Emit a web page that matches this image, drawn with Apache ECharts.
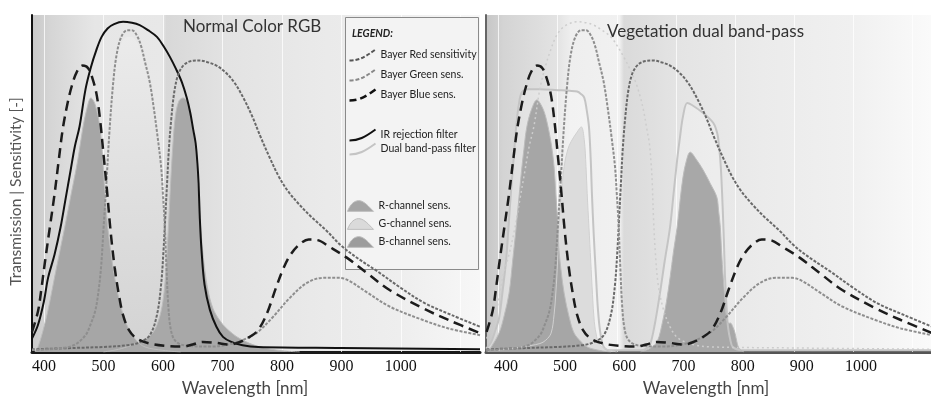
<!DOCTYPE html>
<html>
<head>
<meta charset="utf-8">
<title>Normal Color RGB vs Vegetation dual band-pass</title>
<script src="https://cdn.jsdelivr.net/npm/echarts@6/dist/echarts.min.js"></script>
<style>
  html, body { margin: 0; padding: 0; background: #fff; }
  #chart { width: 931px; height: 405px; }
</style>
</head>
<body>
<div id="chart"></div>
<script>
// all curves: [wavelength nm, relative value 0..1]
var bayerRed = [[380,0.008],[450,0.012],[500,0.015],[540,0.02],[560,0.028],[578,0.05],[590,0.11],[597,0.2],[601,0.3],[604,0.4],[607,0.5],[610,0.6],[614,0.69],[619,0.77],[625,0.82],[632,0.845],[640,0.858],[650,0.864],[662,0.865],[675,0.86],[690,0.85],[705,0.83],[720,0.8],[735,0.755],[750,0.7],[765,0.635],[780,0.575],[795,0.52],[810,0.478],[828,0.44],[850,0.4],[875,0.36],[900,0.315],[930,0.275],[960,0.24],[1000,0.19],[1040,0.145],[1085,0.11],[1133,0.075]];
var bayerGreen = [[380,0.006],[420,0.01],[450,0.02],[470,0.05],[478,0.08],[486,0.12],[491,0.17],[496,0.25],[500,0.36],[505,0.5],[510,0.65],[516,0.79],[522,0.88],[530,0.935],[540,0.955],[548,0.955],[556,0.94],[563,0.91],[570,0.86],[578,0.8],[585,0.72],[591,0.64],[597,0.55],[600,0.47],[603,0.38],[606,0.25],[609,0.14],[613,0.07],[620,0.035],[635,0.02],[680,0.016],[717,0.025],[740,0.04],[760,0.06],[785,0.104],[813,0.16],[842,0.205],[869,0.22],[897,0.22],[914,0.21],[943,0.177],[981,0.135],[1037,0.095],[1080,0.07],[1133,0.05]];
var bayerBlue = [[380,0.06],[390,0.12],[396,0.19],[402,0.27],[410,0.37],[418,0.47],[425,0.57],[432,0.665],[440,0.74],[447,0.79],[455,0.83],[465,0.85],[474,0.843],[482,0.81],[489,0.76],[495,0.68],[500,0.59],[506,0.48],[512,0.36],[519,0.25],[526,0.17],[533,0.11],[543,0.065],[556,0.04],[578,0.025],[605,0.018],[633,0.016],[650,0.022],[667,0.03],[690,0.027],[712,0.022],[730,0.03],[746,0.045],[760,0.065],[775,0.115],[790,0.19],[803,0.25],[815,0.29],[830,0.32],[845,0.334],[860,0.332],[880,0.312],[909,0.28],[943,0.234],[981,0.184],[1037,0.13],[1080,0.095],[1133,0.056]];
var irFilter = [[380,0.04],[390,0.08],[400,0.15],[407,0.22],[418,0.29],[428,0.37],[436,0.45],[445,0.54],[452,0.61],[460,0.67],[470,0.78],[479,0.845],[488,0.895],[497,0.935],[507,0.96],[518,0.973],[533,0.98],[548,0.977],[561,0.97],[575,0.955],[590,0.935],[602,0.905],[612,0.875],[622,0.84],[632,0.8],[640,0.755],[646,0.71],[651,0.66],[655,0.62],[658,0.56],[660,0.5],[662,0.4],[665,0.3],[670,0.2],[679,0.125],[690,0.075],[701,0.045],[715,0.03],[734,0.02],[760,0.015],[900,0.012],[1133,0.008]];
var dualBandPass = [[379,0.01],[387,0.027],[394,0.06],[401,0.1],[407,0.18],[413,0.273],[417,0.37],[421,0.47],[426,0.58],[430,0.668],[435,0.74],[440,0.772],[450,0.78],[470,0.78],[500,0.777],[520,0.775],[533,0.773],[540,0.765],[545,0.755],[549,0.72],[553,0.668],[556,0.57],[558,0.47],[561,0.35],[565,0.22],[568,0.13],[572,0.06],[578,0.015],[590,0.005],[640,0.005],[650,0.01],[656,0.02],[664,0.08],[673,0.175],[681,0.27],[690,0.37],[696,0.47],[702,0.57],[707,0.64],[712,0.7],[719,0.739],[727,0.733],[746,0.709],[763,0.68],[768,0.66],[771,0.638],[775,0.57],[778,0.47],[781,0.33],[783,0.22],[786,0.12],[788,0.074],[792,0.035],[796,0.015],[810,0.006],[1131,0.005]];

// channel sensitivities, normal RGB (left)
var rChanRGB = [[500,0],[530,0.01],[561,0.03],[580,0.05],[592,0.09],[600,0.15],[605,0.24],[609,0.36],[613,0.5],[617,0.62],[621,0.7],[627,0.745],[634,0.754],[642,0.74],[650,0.67],[656,0.58],[660,0.46],[664,0.36],[668,0.28],[675,0.19],[684,0.13],[695,0.095],[707,0.07],[729,0.04],[763,0.015],[800,0.004],[830,0]];
var gChanRGB = [[430,0],[455,0.015],[470,0.04],[478,0.07],[486,0.11],[491,0.16],[496,0.24],[500,0.35],[505,0.49],[510,0.63],[516,0.77],[522,0.86],[530,0.915],[540,0.935],[548,0.935],[556,0.92],[563,0.89],[570,0.84],[578,0.78],[585,0.7],[591,0.62],[597,0.53],[600,0.45],[603,0.36],[606,0.24],[609,0.14],[613,0.07],[620,0.035],[640,0.015],[665,0.005],[690,0]];
var bChanRGB = [[385,0],[390,0.015],[398,0.06],[407,0.125],[420,0.24],[435,0.37],[446,0.47],[457,0.57],[465,0.66],[472,0.72],[479,0.754],[486,0.735],[494,0.668],[499,0.57],[503,0.46],[508,0.36],[513,0.29],[519,0.22],[530,0.13],[541,0.074],[555,0.035],[570,0.015],[600,0.005],[630,0]];

// channel sensitivities, vegetation dual band-pass (right)
var rChanVeg = [[640,0],[655,0.01],[668,0.03],[678,0.095],[684,0.15],[690,0.22],[696,0.3],[702,0.37],[707,0.45],[712,0.52],[718,0.57],[724,0.593],[735,0.57],[746,0.54],[758,0.5],[769,0.46],[772,0.42],[775,0.37],[777,0.3],[780,0.22],[783,0.15],[786,0.095],[789,0.085],[792,0.086],[796,0.075],[800,0.055],[803,0.03],[807,0.01],[815,0]];
var gChanVeg = [[400,0.005],[440,0.015],[470,0.025],[480,0.035],[489,0.056],[494,0.11],[497,0.175],[500,0.27],[502,0.37],[506,0.46],[511,0.55],[517,0.6],[523,0.625],[532,0.65],[540,0.668],[545,0.63],[548,0.55],[550,0.47],[553,0.37],[556,0.27],[559,0.17],[562,0.09],[566,0.045],[570,0.025],[580,0.01],[600,0]];
var bChanVeg = [[382,0],[388,0.015],[401,0.056],[410,0.11],[418,0.175],[424,0.27],[430,0.37],[438,0.52],[443,0.6],[448,0.668],[456,0.72],[465,0.748],[473,0.73],[480,0.697],[489,0.62],[494,0.55],[497,0.47],[500,0.39],[502,0.31],[506,0.24],[511,0.175],[520,0.1],[528,0.056],[540,0.03],[550,0.015],[570,0.005],[590,0]];

var tickNm = [400, 500, 600, 700, 800, 900, 1000];
var gridNm = [400, 500, 600, 700, 800, 900, 1000, 1100];

var chart = echarts.init(document.getElementById("chart"));

function bgGradient(stops) {
  return { type: "linear", x: 0, y: 0, x2: 1, y2: 0, colorStops: stops };
}

function curve(name, data, idx, color, width, dash, extra) {
  var s = {
    name: name,
    type: "line",
    xAxisIndex: idx,
    yAxisIndex: idx,
    data: data,
    smooth: 0.35,
    showSymbol: false,
    silent: true,
    lineStyle: { color: color, width: width, type: dash }
  };
  for (var k in extra) s[k] = extra[k];
  return s;
}

function fill(name, data, idx, color, edge) {
  return curve(name, data, idx, edge, 1, "solid", {
    areaStyle: { color: color, opacity: 1 }
  });
}

function bayerLines(idx) {
  return [
    curve("Bayer Red sensitivity", bayerRed, idx, "#696969", 2, [3, 1.5], {}),
    curve("Bayer Green sens.", bayerGreen, idx, "#8e8e8e", 2, [3, 1.5], {}),
    curve("Bayer Blue sens.", bayerBlue, idx, "#1c1c1c", 2.5, [10, 6], {})
  ];
}
var gridLines = {
  silent: true, symbol: "none", z: 1,
  label: { show: false },
  lineStyle: { color: "rgba(255,255,255,0.75)", width: 1, type: "solid" },
  data: gridNm.map(function (v) { return { xAxis: v }; })
};

var series = [];
// left: Normal Color RGB
var g1 = fill("G-channel sens.", gChanRGB, 0, {
  type: "linear", x: 0, y: 0, x2: 0, y2: 1,
  colorStops: [{ offset: 0, color: "#ebebeb" }, { offset: 1, color: "#d3d3d3" }]
}, "rgba(0,0,0,0)");
g1.markLine = gridLines;
series.push(g1);
series.push(fill("B-channel sens.", bChanRGB, 0, "#a6a6a6", "#bcbcbc"));
series.push(fill("R-channel sens.", rChanRGB, 0, "#a8a8a8", "#bcbcbc"));
series.push(curve("IR rejection filter", irFilter, 0, "#111", 2, "solid", {}));
series = series.concat(bayerLines(0));
// right: Vegetation dual band-pass
var bp = curve("Dual band-pass filter", dualBandPass, 1, "#c4c4c4", 2, "solid", {
  areaStyle: { color: "rgba(255,255,255,0.35)" }
});
bp.markLine = gridLines;
series.push(bp);
series.push(curve("IR filter (not used)", irFilter, 1, "#cdcdcd", 1.5, [2, 3], {}));
series.push(fill("G-channel sens.", gChanVeg, 1, "#dcdcdc", "#d0d0d0"));
series.push(fill("B-channel sens.", bChanVeg, 1, "#a6a6a6", "#bcbcbc"));
series.push(fill("R-channel sens.", rChanVeg, 1, "#a8a8a8", "#bcbcbc"));
series = series.concat(bayerLines(1));

var swoosh = "path://M0,12 C9,12 15,9 26,1";
var hump = "path://M0,13 C3,5 8,1 13,2 C18,3 22,8 27,13 Z";
var legendText = { fontFamily: "Lato", fontSize: 10.5, lineHeight: 12, color: "#222" };
function lineIcon(name, color, width, dash) {
  return { name: name, icon: swoosh,
    itemStyle: { color: "none", borderColor: color, borderWidth: width, borderType: dash } };
}
function humpIcon(name, color) {
  return { name: name, icon: hump,
    itemStyle: { color: color, borderColor: "#bdbdbd", borderWidth: 1 } };
}

var option = {
  animation: false,
  backgroundColor: "#fff",
  title: [
    { text: "Normal Color RGB", left: 183, top: 18, padding: 0,
      textStyle: { fontFamily: "Lato", fontSize: 17, fontWeight: "normal", color: "#333" } },
    { text: "Vegetation dual band-pass", left: 607, top: 23, padding: 0,
      textStyle: { fontFamily: "Lato", fontSize: 17, fontWeight: "normal", color: "#333" } }
  ],
  graphic: [
    { type: "rect", z: 3, silent: true,
      shape: { x: 345.5, y: 17.5, width: 133, height: 252 },
      style: { fill: "#f3f3f3", stroke: "#8a8a8a", lineWidth: 1 } },
    { type: "text", z: 5, silent: true, x: 352, y: 34,
      style: { text: "LEGEND:", fontFamily: "Lato", fontSize: 10.5, fontWeight: "bold",
               fontStyle: "italic", fill: "#222", verticalAlign: "middle" } }
  ],
  legend: [
    { left: 347, top: 47, padding: 0, orient: "vertical", itemWidth: 26, itemHeight: 12, itemGap: 4,
      selectedMode: false, textStyle: legendText,
      data: [
        lineIcon("Bayer Red sensitivity", "#555", 2, [4, 2]),
        lineIcon("Bayer Green sens.", "#888", 2, [4, 2]),
        lineIcon("Bayer Blue sens.", "#111", 2.5, [7, 4])
      ] },
    { left: 347, top: 127, padding: 0, orient: "vertical", itemWidth: 26, itemHeight: 12, itemGap: -2,
      selectedMode: false, textStyle: legendText,
      data: [
        lineIcon("IR rejection filter", "#111", 2, "solid"),
        lineIcon("Dual band-pass filter", "#c4c4c4", 2, "solid")
      ] },
    { left: 347, top: 200, padding: 0, orient: "vertical", itemWidth: 26, itemHeight: 14, itemGap: 6,
      selectedMode: false, textStyle: legendText,
      data: [
        humpIcon("R-channel sens.", "#a5a5a5"),
        humpIcon("G-channel sens.", "#dadada"),
        humpIcon("B-channel sens.", "#9c9c9c")
      ] }
  ],
  grid: [
    { left: 32, right: 451, top: 15, bottom: 53, show: true, borderWidth: 0,
      backgroundColor: bgGradient([
        { offset: 0, color: "#c9c9c9" }, { offset: 0.04, color: "#d5d5d5" },
        { offset: 0.14, color: "#e6e6e6" }, { offset: 0.29, color: "#e8e8e8" },
        { offset: 0.3, color: "#d8d8d8" }, { offset: 0.44, color: "#e3e3e3" },
        { offset: 0.62, color: "#e9e9e9" }, { offset: 0.82, color: "#eeeeee" },
        { offset: 1, color: "#f7f7f7" }
      ]) },
    { left: 486, right: 0, top: 15, bottom: 53, show: true, borderWidth: 0,
      backgroundColor: bgGradient([
        { offset: 0, color: "#c6c6c6" }, { offset: 0.04, color: "#d4d4d4" },
        { offset: 0.16, color: "#e3e3e3" }, { offset: 0.19, color: "#eeeeee" },
        { offset: 0.3, color: "#f1f1f1" }, { offset: 0.31, color: "#dadada" },
        { offset: 0.43, color: "#e4e4e4" }, { offset: 0.62, color: "#ebebeb" },
        { offset: 0.82, color: "#f0f0f0" }, { offset: 1, color: "#fafafa" }
      ]) }
  ],
  xAxis: [
    { gridIndex: 0, type: "value", min: 380, max: 1133,
      name: "Wavelength [nm]", nameLocation: "middle", nameGap: 27,
      nameTextStyle: { fontFamily: "Lato", fontSize: 17, color: "#444", padding: [0, 22, 0, 0] },
      axisLine: { show: true, lineStyle: { color: "#1a1a1a", width: 3 } },
      axisTick: { show: false }, splitLine: { show: false },
      axisLabel: { customValues: tickNm, margin: 7, formatter: function (v) { return String(v); },
        fontFamily: "Liberation Serif", fontSize: 16, color: "#111" } },
    { gridIndex: 1, type: "value", min: 379, max: 1131,
      name: "Wavelength [nm]", nameLocation: "middle", nameGap: 27,
      nameTextStyle: { fontFamily: "Lato", fontSize: 17, color: "#444", padding: [0, 5, 0, 0] },
      axisLine: { show: true, lineStyle: { color: "#555", width: 3 } },
      axisTick: { show: false }, splitLine: { show: false },
      axisLabel: { customValues: tickNm, margin: 7, padding: [0, 0, 0, 15],
        formatter: function (v) { return String(v); },
        fontFamily: "Liberation Serif", fontSize: 16, color: "#111" } }
  ],
  yAxis: [
    { gridIndex: 0, type: "value", min: 0, max: 1,
      name: "Transmission | Sensitivity [-]", nameLocation: "middle", nameGap: 8,
      nameTextStyle: { fontFamily: "Lato", fontSize: 15.5, color: "#555", padding: [0, 16, 0, 0] },
      axisLine: { show: true, lineStyle: { color: "#111", width: 2 } },
      axisTick: { show: false }, axisLabel: { show: false }, splitLine: { show: false } },
    { gridIndex: 1, type: "value", min: 0, max: 1,
      axisLine: { show: true, lineStyle: { color: "#666", width: 2 } },
      axisTick: { show: false }, axisLabel: { show: false }, splitLine: { show: false } }
  ],
  series: series
};

chart.setOption(option);
</script>
</body>
</html>
